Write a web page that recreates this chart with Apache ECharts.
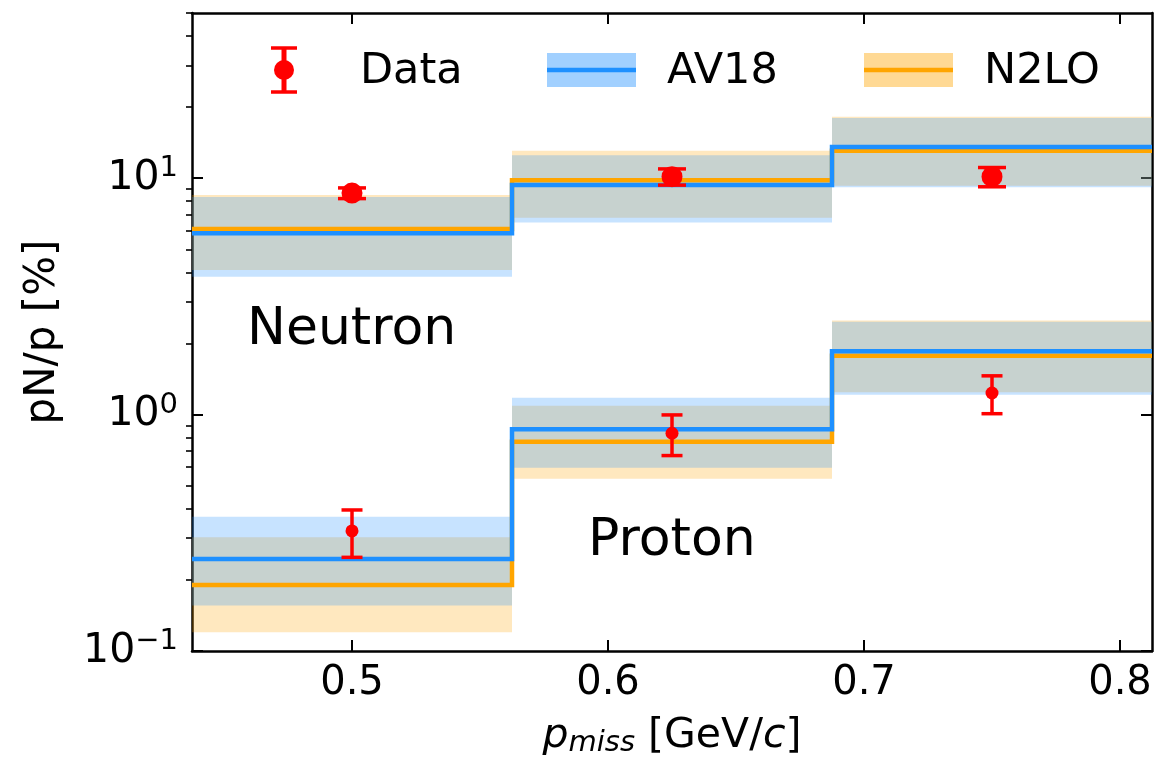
<!DOCTYPE html>
<html>
<head>
<meta charset="utf-8">
<script src="https://cdn.jsdelivr.net/npm/echarts@6/dist/echarts.min.js"></script>
<style>
html,body{margin:0;padding:0;background:#fff;}
#c{width:1173px;height:763px;}
</style>
</head>
<body>
<div id="c"></div>
<script>
// ---- data ----
const EDGES = [0.4375, 0.5625, 0.6875, 0.8125];
const CENTERS = [0.5, 0.625, 0.75];

const N_DATA = [8.65, 10.15, 10.15];
const N_ERR = [0.45, 0.8, 0.95];
const N_AV18 = [5.85, 9.36, 13.55];
const N_AV18_LO = [3.83, 6.49, 9.15];
const N_AV18_HI = [8.32, 12.5, 18.0];
const N_N2LO = [6.10, 9.80, 13.06];
const N_N2LO_LO = [4.09, 6.81, 9.29];
const N_N2LO_HI = [8.49, 13.06, 18.2];

const P_DATA = [0.322, 0.834, 1.234];
const P_ERR = [0.073, 0.163, 0.225];
const P_AV18 = [0.245, 0.867, 1.853];
const P_AV18_LO = [0.1556, 0.596, 1.214];
const P_AV18_HI = [0.370, 1.179, 2.47];
const P_N2LO = [0.190, 0.768, 1.775];
const P_N2LO_LO = [0.120, 0.535, 1.243];
const P_N2LO_HI = [0.303, 1.09, 2.50];

const X_TICKS = [0.5, 0.6, 0.7, 0.8];
const Y_MAJOR = [0.1, 1, 10];
const Y_MINOR = [0.2,0.3,0.4,0.5,0.6,0.7,0.8,0.9,2,3,4,5,6,7,8,9,20,30,40,50];
const X_MIN = 0.4375, X_MAX = 0.8125, Y_MIN = 0.1, Y_MAX = 50;

const FONT = 'DejaVu Sans';
const BLUE = '#1E90FF', ORANGE = '#FFA500', RED = '#FF0000';
const BLUE_BAND = 'rgba(30,144,255,0.25)', ORANGE_BAND = 'rgba(255,165,0,0.25)';

// ---- helpers ----
function stepData(vals){
  const d = [];
  for (let i = 0; i < vals.length; i++) d.push([EDGES[i], vals[i]]);
  d.push([EDGES[EDGES.length-1], vals[vals.length-1]]);
  return d;
}
function bandData(lo, hi){
  return lo.map((l, i) => [EDGES[i], EDGES[i+1], l, hi[i]]);
}
function bandSeries(lo, hi, color){
  return {
    type: 'custom', xAxisIndex: 0, yAxisIndex: 0, silent: true,
    data: bandData(lo, hi),
    encode: {x: [0,1], y: [2,3]},
    renderItem: function(params, api){
      const a = api.coord([api.value(0), api.value(3)]);
      const b = api.coord([api.value(1), api.value(2)]);
      return {type: 'rect', shape: {x: a[0], y: a[1], width: b[0]-a[0], height: b[1]-a[1]},
              style: {fill: color}};
    },
    z: 1
  };
}
function lineSeries(vals, color, z){
  return {
    type: 'line', xAxisIndex: 0, yAxisIndex: 0, step: 'end', symbol: 'none', silent: true,
    data: stepData(vals), lineStyle: {color: color, width: 4.5, join: 'miter'}, z: z
  };
}
function errSeries(vals, errs, halfCap){
  return {
    type: 'custom', xAxisIndex: 0, yAxisIndex: 0, silent: true,
    data: vals.map((v, i) => [CENTERS[i], v, v - errs[i], v + errs[i]]),
    encode: {x: 0, y: [2,3]},
    renderItem: function(params, api){
      const x = api.value(0);
      const lo = api.coord([x, api.value(2)]);
      const hi = api.coord([x, api.value(3)]);
      const st = {stroke: RED, lineWidth: 3.5};
      return {type: 'group', children: [
        {type: 'line', shape: {x1: lo[0], y1: lo[1], x2: hi[0], y2: hi[1]}, style: st},
        {type: 'line', shape: {x1: lo[0]-halfCap, y1: lo[1], x2: lo[0]+halfCap, y2: lo[1]}, style: st},
        {type: 'line', shape: {x1: hi[0]-halfCap, y1: hi[1], x2: hi[0]+halfCap, y2: hi[1]}, style: st}
      ]};
    },
    z: 5
  };
}
function scatterSeries(vals, size){
  return {
    type: 'scatter', xAxisIndex: 0, yAxisIndex: 0, silent: true,
    data: vals.map((v, i) => [CENTERS[i], v]),
    symbol: 'circle', symbolSize: size, itemStyle: {color: RED, opacity: 1}, z: 6
  };
}
function supLabel(v){
  const e = Math.round(Math.log10(v));
  return '{b|10}{s|' + (e < 0 ? '\u2212' + (-e) : String(e)) + '}';
}

const chart = echarts.init(document.getElementById('c'), null, {renderer: 'canvas'});
const axisLineStyle = {color: '#000', width: 2.5};

const option = {
  animation: false,
  backgroundColor: '#fff',
  grid: {left: 192, right: 21, top: 13, bottom: 112, containLabel: false, outerBoundsMode: 'none'},
  xAxis: [
    {
      type: 'value', position: 'bottom', min: X_MIN, max: X_MAX,
      splitLine: {show: false},
      axisLine: {show: true, onZero: false, lineStyle: axisLineStyle},
      axisTick: {show: true, inside: true, length: 11, lineStyle: {color: '#000', width: 2}, customValues: X_TICKS},
      axisLabel: {show: true, customValues: X_TICKS, formatter: v => v.toFixed(1),
                  fontFamily: FONT, fontSize: 40, color: '#000', margin: 13},
      name: '{i|p}{sub|miss}{n| [GeV/}{i|c}{n|]}',
      nameLocation: 'middle', nameGap: 63,
      nameTextStyle: {
        fontFamily: FONT, fontSize: 41, color: '#000',
        rich: {
          i: {fontFamily: FONT, fontSize: 41, fontStyle: 'italic', color: '#000', lineHeight: 44},
          sub: {fontFamily: FONT, fontSize: 29, fontStyle: 'italic', color: '#000', lineHeight: 22, verticalAlign: 'bottom'},
          n: {fontFamily: FONT, fontSize: 41, color: '#000', lineHeight: 44}
        }
      }
    },
    {
      type: 'value', position: 'top', min: X_MIN, max: X_MAX,
      splitLine: {show: false},
      axisLine: {show: true, onZero: false, lineStyle: axisLineStyle},
      axisTick: {show: true, inside: true, length: 11, lineStyle: {color: '#000', width: 2}, customValues: X_TICKS},
      axisLabel: {show: false}
    }
  ],
  yAxis: [
    {
      type: 'log', logBase: 10, position: 'left', min: Y_MIN, max: Y_MAX,
      splitLine: {show: false},
      axisLine: {show: true, onZero: false, lineStyle: axisLineStyle},
      axisTick: {show: true, inside: true, length: 11, lineStyle: {color: '#000', width: 2}, customValues: Y_MAJOR},
      axisLabel: {
        show: true, customValues: Y_MAJOR, formatter: supLabel, margin: 14,
        rich: {
          b: {fontFamily: FONT, fontSize: 41, color: '#000', lineHeight: 48},
          s: {fontFamily: FONT, fontSize: 29, color: '#000', lineHeight: 28, verticalAlign: 'top'}
        }
      },
      name: 'pN/p [%]', nameLocation: 'middle', nameGap: 128, nameRotate: 90,
      nameTextStyle: {fontFamily: FONT, fontSize: 42, color: '#000'}
    },
    {
      type: 'log', logBase: 10, position: 'left', min: Y_MIN, max: Y_MAX,
      splitLine: {show: false},
      axisLine: {show: false},
      axisTick: {show: true, inside: false, length: 6, lineStyle: {color: '#000', width: 1.6}, customValues: Y_MINOR},
      axisLabel: {show: false}
    },
    {
      type: 'log', logBase: 10, position: 'right', min: Y_MIN, max: Y_MAX,
      splitLine: {show: false},
      axisLine: {show: true, onZero: false, lineStyle: axisLineStyle},
      axisTick: {show: true, inside: true, length: 11, lineStyle: {color: '#000', width: 2}, customValues: Y_MAJOR},
      axisLabel: {show: false}
    }
  ],
  series: [
    bandSeries(N_N2LO_LO, N_N2LO_HI, ORANGE_BAND),
    bandSeries(P_N2LO_LO, P_N2LO_HI, ORANGE_BAND),
    bandSeries(N_AV18_LO, N_AV18_HI, BLUE_BAND),
    bandSeries(P_AV18_LO, P_AV18_HI, BLUE_BAND),
    lineSeries(N_N2LO, ORANGE, 3),
    lineSeries(P_N2LO, ORANGE, 3),
    lineSeries(N_AV18, BLUE, 4),
    lineSeries(P_AV18, BLUE, 4),
    errSeries(N_DATA, N_ERR, 14),
    errSeries(P_DATA, P_ERR, 10.5),
    scatterSeries(N_DATA, 21),
    scatterSeries(P_DATA, 13)
  ],
  graphic: [
    // legend: Data
    {type: 'line', shape: {x1: 284, y1: 48, x2: 284, y2: 92}, style: {stroke: RED, lineWidth: 5}, z: 100},
    {type: 'line', shape: {x1: 271, y1: 48, x2: 297, y2: 48}, style: {stroke: RED, lineWidth: 3.5}, z: 100},
    {type: 'line', shape: {x1: 271, y1: 92, x2: 297, y2: 92}, style: {stroke: RED, lineWidth: 3.5}, z: 100},
    {type: 'circle', shape: {cx: 284, cy: 70, r: 10}, style: {fill: RED}, z: 100},
    {type: 'text', x: 360, y: 72, style: {text: 'Data', font: '43px "DejaVu Sans"', fill: '#000', verticalAlign: 'middle', align: 'left'}, z: 100},
    // legend: AV18
    {type: 'rect', shape: {x: 547, y: 53, width: 89, height: 34}, style: {fill: 'rgba(30,144,255,0.42)'}, z: 100},
    {type: 'line', shape: {x1: 547, y1: 70, x2: 636, y2: 70}, style: {stroke: BLUE, lineWidth: 4.5}, z: 100},
    {type: 'text', x: 667, y: 72, style: {text: 'AV18', font: '43px "DejaVu Sans"', fill: '#000', verticalAlign: 'middle', align: 'left'}, z: 100},
    // legend: N2LO
    {type: 'rect', shape: {x: 864, y: 53, width: 89, height: 34}, style: {fill: 'rgba(255,165,0,0.42)'}, z: 100},
    {type: 'line', shape: {x1: 864, y1: 70, x2: 953, y2: 70}, style: {stroke: ORANGE, lineWidth: 4.5}, z: 100},
    {type: 'text', x: 984, y: 72, style: {text: 'N2LO', font: '43px "DejaVu Sans"', fill: '#000', verticalAlign: 'middle', align: 'left'}, z: 100},
    // annotations
    {type: 'text', x: 247, y: 330, style: {text: 'Neutron', font: '52px "DejaVu Sans"', fill: '#000', verticalAlign: 'middle', align: 'left'}, z: 100},
    {type: 'text', x: 588, y: 541, style: {text: 'Proton', font: '52px "DejaVu Sans"', fill: '#000', verticalAlign: 'middle', align: 'left'}, z: 100}
  ]
};
chart.setOption(option);
</script>
</body>
</html>
